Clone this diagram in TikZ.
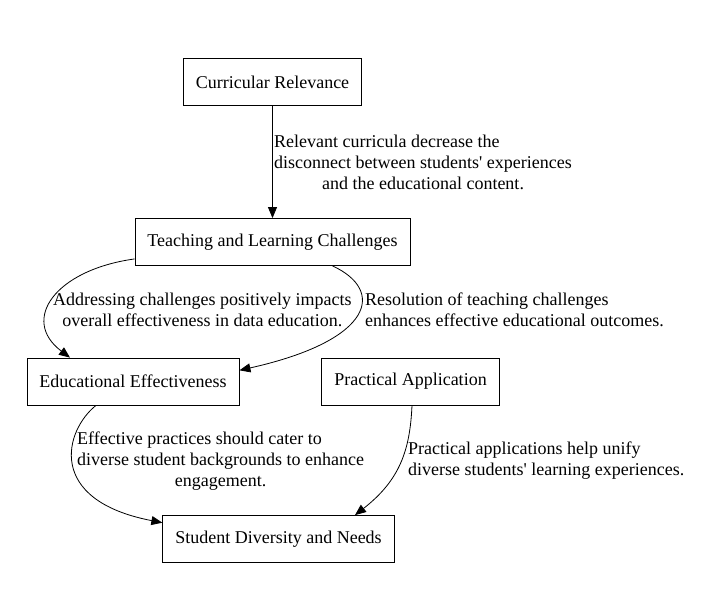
\documentclass[tikz,border=0pt]{standalone}
\usepackage{fontspec}
\setmainfont{Liberation Serif}
\usetikzlibrary{arrows.meta,positioning,calc}

\tikzset{
  box/.style={draw, thick, rectangle, minimum height=47pt, inner xsep=12.5pt, font=\fontsize{18}{21}\selectfont},
  lbl/.style={anchor=west, inner sep=0pt, font=\fontsize{18}{21}\selectfont},
  link/.style={thick, -{Triangle[length=11pt,width=9pt]}}
}

\begin{document}
\begin{tikzpicture}[x=1pt,y=-1pt]
  \useasboundingbox (0,0) rectangle (721,589);
  % boxes
  \node[box] (cr)  at (272.5,82)  {Curricular Relevance};
  \node[box] (tlc) at (272.5,242) {Teaching and Learning Challenges};
  \node[box] (ee)  at (133,381.5) {Educational Effectiveness};
  \node[box] (pa)  at (410.5,381.5) {Practical Application};
  \node[box] (sdn) at (278.5,539) {Student Diversity and Needs};
  % edge labels
  \node[lbl] (l1) at (274,164) {\begin{tabular}{@{}l@{}}Relevant curricula decrease the\\ disconnect between students\textquotesingle\ experiences\\ \multicolumn{1}{@{}c@{}}{and the educational content.}\end{tabular}};
  \node[lbl] (l2) at (53,312) {\begin{tabular}{@{}c@{}}Addressing challenges positively impacts\\ overall effectiveness in data education.\end{tabular}};
  \node[lbl] (l3) at (365,312) {\begin{tabular}{@{}l@{}}Resolution of teaching challenges\\ enhances effective educational outcomes.\end{tabular}};
  \node[lbl] (l4) at (77,461) {\begin{tabular}{@{}l@{}}Effective practices should cater to\\ diverse student backgrounds to enhance\\ \multicolumn{1}{@{}c@{}}{engagement.}\end{tabular}};
  \node[lbl] (l5) at (408,461) {\begin{tabular}{@{}l@{}}Practical applications help unify\\ diverse students\textquotesingle\ learning experiences.\end{tabular}};
  % connectors
  \draw[link] (cr) -- (tlc);
  \draw[link] (tlc.187) .. controls (55,270) and (20,320) .. ([xshift=-63pt]ee.north);
  \draw[link] ([xshift=60pt]tlc.south) .. controls (385,290) and (375,340) .. (ee.6);
  \draw[link] ([xshift=-37pt]ee.south) .. controls (65,430) and (45,500) .. (sdn.172);
  \draw[link] ([xshift=1.5pt]pa.south) .. controls (410,450) and (400,480) .. ([xshift=76.5pt]sdn.north);
\end{tikzpicture}
\end{document}
